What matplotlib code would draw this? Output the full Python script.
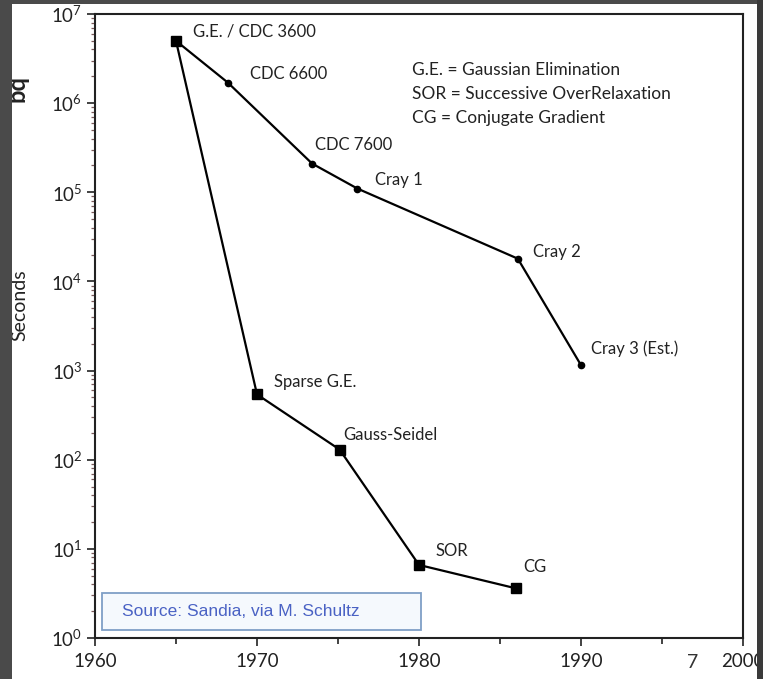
import matplotlib
matplotlib.use("Agg")
import matplotlib.pyplot as plt
from matplotlib.patches import Rectangle
from matplotlib.ticker import LogLocator, FixedLocator

plt.rcParams['font.family'] = ['Lato', 'DejaVu Sans']
plt.rcParams['mathtext.fontset'] = 'custom'
plt.rcParams['mathtext.rm'] = 'Lato'
plt.rcParams['mathtext.it'] = 'Lato:italic'
plt.rcParams['mathtext.bf'] = 'Lato:bold'

# Machine (hardware) series
hw_years = [1965.0, 1968.2, 1973.4, 1976.2, 1986.1, 1990.0]
hw_seconds = [5.0e6, 1.7e6, 2.1e5, 1.1e5, 1.8e4, 1.15e3]
hw_labels = ["G.E. / CDC 3600", "CDC 6600", "CDC 7600", "Cray 1", "Cray 2", "Cray 3 (Est.)"]

# Algorithm series
alg_years = [1965.0, 1970.0, 1975.1, 1980.0, 1986.0]
alg_seconds = [5.0e6, 540, 130, 6.6, 3.6]
alg_labels = [None, "Sparse G.E.", "Gauss-Seidel", "SOR", "CG"]

legend_lines = ["G.E. = Gaussian Elimination",
                "SOR = Successive OverRelaxation",
                "CG = Conjugate Gradient"]

W, H = 763, 679
fig = plt.figure(figsize=(W / 100, H / 100), dpi=100)
fig.patch.set_facecolor('white')
ax = fig.add_axes([95 / W, 1 - 638 / H, (743 - 95) / W, (638 - 14) / H])

ax.plot(hw_years, hw_seconds, color='black', lw=1.6, marker='o', ms=4.5, zorder=3)
ax.plot(alg_years, alg_seconds, color='black', lw=1.6, marker='s', ms=7.5, zorder=4)

hw_off = [(17, 9), (22, 9), (3, 19), (18, 9), (15, 7), (10, 16)]
for x, y, lab, off in zip(hw_years, hw_seconds, hw_labels, hw_off):
    ax.annotate(lab, (x, y), xytext=off, textcoords='offset pixels',
                ha='left', va='center', fontsize=12, color='#222222')
alg_off = [None, (17, 12), (4, 15), (16, 14), (7, 21)]
for x, y, lab, off in zip(alg_years, alg_seconds, alg_labels, alg_off):
    if lab is None:
        continue
    ax.annotate(lab, (x, y), xytext=off, textcoords='offset pixels',
                ha='left', va='center', fontsize=12, color='#222222')

ax.set_yscale('log')
ax.set_ylim(1, 1e7)
ax.set_xlim(1960, 2000)
ax.xaxis.set_major_locator(FixedLocator([1960, 1970, 1980, 1990, 2000]))
ax.xaxis.set_minor_locator(FixedLocator([1965, 1975, 1985, 1995]))
ax.yaxis.set_major_locator(LogLocator(base=10, numticks=10))
ax.yaxis.set_minor_locator(LogLocator(base=10, subs=range(2, 10), numticks=20))
ax.yaxis.set_minor_formatter(plt.NullFormatter())

ax.tick_params(axis='both', which='major', direction='out', length=6, width=1.2,
               labelsize=13.5, colors='#222222', pad=3)
ax.tick_params(axis='x', which='major', pad=5)
ax.tick_params(axis='x', which='minor', direction='out', length=4, width=1.2, color='#222222')
ax.tick_params(axis='y', which='minor', direction='out', length=3, width=0.9, color='#7a5a5a')
for s in ax.spines.values():
    s.set_linewidth(1.5)
    s.set_color('#222222')

fig.text(20 / W, 1 - 305 / H, "Seconds", rotation=90, ha='center', va='center',
         fontsize=14, color='#222222')

# legend block
for i, line in enumerate(legend_lines):
    fig.text(412 / W, 1 - (70 + i * 24) / H, line, ha='left', va='center',
             fontsize=12.5, color='#222222')

# source box
fig.patches.append(Rectangle((102 / W, 1 - 630 / H), (421 - 102) / W, 37 / H,
                             transform=fig.transFigure, facecolor='#f5f9fd',
                             edgecolor='#7f9fc6', lw=1.3, zorder=5))
fig.text(122 / W, 1 - 612 / H, "Source: Sandia, via M. Schultz", ha='left', va='center',
         fontsize=12.5, color='#4a62c4', family='Liberation Sans', zorder=6)

# page number
fig.text(693 / W, 1 - 662 / H, "7", ha='center', va='center', fontsize=14, color='#333333')

# fragment of rotated text at the left edge (partly hidden by the dark frame)
fig.text(5 / W, 1 - 88 / H, "bq", rotation=90, ha='left', va='center', fontsize=17,
         fontweight='bold', color='#222222')

# dark frame
dark = '#4a4a4a'
fig.patches.append(Rectangle((0, 0), 12 / W, 1, transform=fig.transFigure,
                             facecolor=dark, edgecolor='none', zorder=20))
fig.patches.append(Rectangle((0, 1 - 4 / H), 1, 4 / H, transform=fig.transFigure,
                             facecolor=dark, edgecolor='none', zorder=20))
fig.patches.append(Rectangle((757 / W, 0), 6 / W, 1, transform=fig.transFigure,
                             facecolor='#3a3a3a', edgecolor='none', zorder=20))

fig.savefig('out.png', dpi=100)
